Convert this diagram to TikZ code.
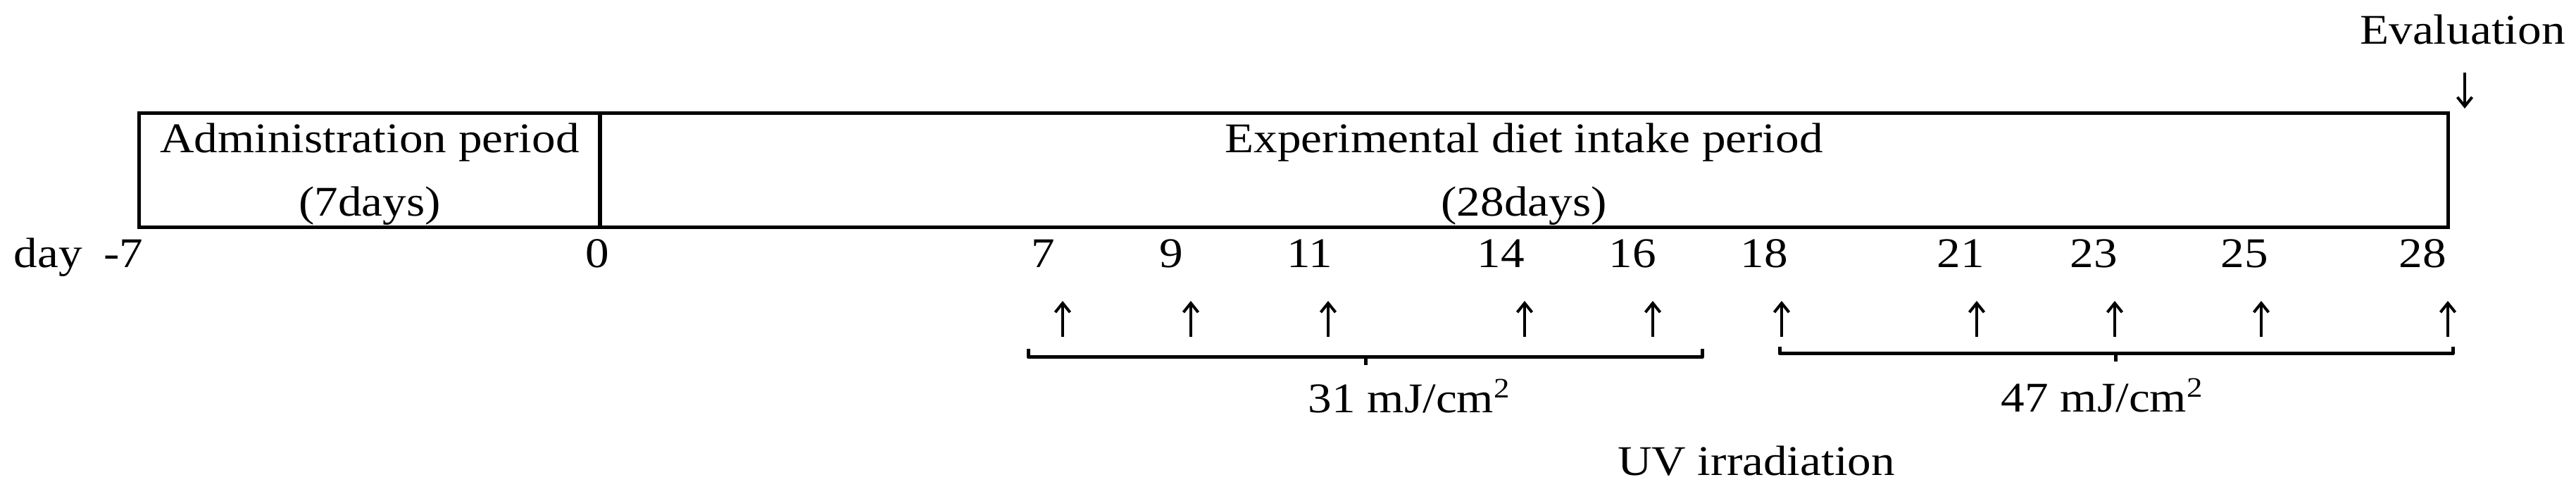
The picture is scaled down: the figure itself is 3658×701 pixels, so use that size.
\documentclass[tikz,border=0pt]{standalone}
\usepackage{fontspec}
\setmainfont{Liberation Serif}[FakeStretch=1.12]
\usetikzlibrary{arrows.meta}
\begin{document}
\begin{tikzpicture}[x=0.2pt,y=-0.2pt,
  every node/.style={font=\fontsize{12pt}{14pt}\selectfont, inner sep=0pt, outer sep=0pt},
  lbl/.style={anchor=base},
  period/.style={draw, line width=1pt, minimum height=32.4pt},
  tickarrow/.style={line width=0.8pt, -{Straight Barb[length=2.6pt,width=4.2pt,line width=0.8pt]}},
  brace/.style={line width=1pt, line join=round}]
\useasboundingbox (0,0) rectangle (3658,701);
% period boxes
\node[period, minimum width=130.8pt] (admin) at (525,242) {};
\node[period, minimum width=524.8pt] (exp) at (2164,242) {};
\node[lbl] (admint) at (525,217) {Administration period};
\node[lbl] (admind) at (525,307) {(7days)};
\node[lbl] (expt) at (2164,217) {Experimental diet intake period};
\node[lbl] (expd) at (2164,307) {(28days)};
% evaluation
\node[lbl] (eval) at (3497,63) {Evaluation};
\coordinate (evs) at (3500,103);
\coordinate (evt) at (3500,154);
\draw[tickarrow] (evs) -- (evt);
% day labels
\node[anchor=base east] (day) at (203,380) {day\hspace{6pt}-7};
\foreach \n/\x in {0/848,7/1481,9/1663,11/1860,14/2131,16/2318,18/2505,21/2784,23/2973,25/3187,28/3440}
  \node[lbl] (d\n) at (\x,380) {\n};
% irradiation arrows
\foreach \x in {1509,1691,1886,2165,2347,2530,2807,3003,3211,3476}
  \draw[tickarrow] (\x,478) -- (\x,427);
% brackets
\draw[brace] (1460,495) -- (1460,507) -- (2417,507) -- (2417,495);
\draw[brace] (1939,507) -- (1939,518);
\draw[brace] (2527,492) -- (2527,502) -- (3483,502) -- (3483,492);
\draw[brace] (3004,502) -- (3004,513);
\node[lbl] (dose1) at (2002,586) {31 mJ/cm\textsuperscript{2}};
\node[lbl] (dose2) at (2986,585) {47 mJ/cm\textsuperscript{2}};
\node[lbl] (uv) at (2494,675) {UV irradiation};
\end{tikzpicture}
\end{document}
